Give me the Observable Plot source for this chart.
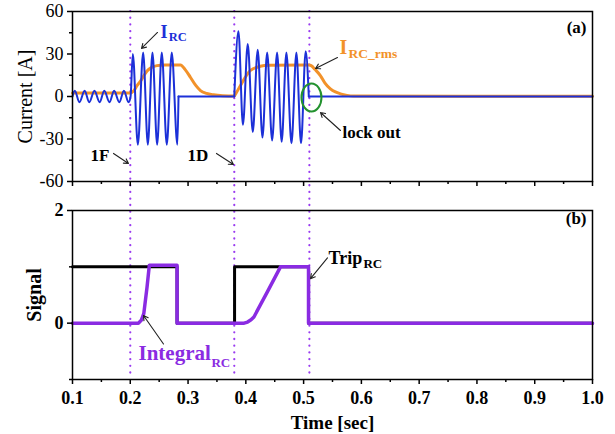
<!DOCTYPE html>
<html><head><meta charset="utf-8">
<script src="https://cdn.jsdelivr.net/npm/d3@7"></script>
<script src="https://cdn.jsdelivr.net/npm/@observablehq/plot@0.6"></script>
<style>
body{margin:0;background:#fff}
#chart{width:615px;height:434px;position:relative;background:#fff}
#chart svg{display:block}
#chart svg text{font-family:'Liberation Serif','Times New Roman',serif}
</style>
</head><body><div id="chart"></div>
<script>
// ---------- data ----------
const faultTimes = [0.2, 0.38, 0.51];

// I_RC waveform: extrema (time s, current A) and segment ids
const ircT = [0.100,0.104,0.112,0.121,0.129,0.138,0.147,0.155,0.164,0.172,0.181,0.189,0.197,
              0.2005,0.2044,0.2131,0.2223,0.2304,0.2384,0.2465,0.2545,0.2632,0.2718,0.2815,0.2835,
              0.2835,0.380,
              0.380,0.3872,0.3950,0.4033,0.4120,0.4206,0.4288,0.4369,0.4455,0.4541,0.4620,0.4702,0.4790,0.4875,0.4955,0.5036,0.5090,
              0.5090,1.000];
const ircV = [0,4,-4,4,-4,4,-4,4,-4,4,-4,4,-4,
              0,30,-34,31,-34,31,-34,31,-34,31,-34,0,
              0,0,
              0,46,-20,37,-25,33,-29,31,-31,31,-32,31,-33,31,-33,32,0,
              0,0];
const ircSeg = ["a","a","a","a","a","a","a","a","a","a","a","a","a",
                "a","a","a","a","a","a","a","a","a","a","a","a",
                "b","b",
                "c","c","c","c","c","c","c","c","c","c","c","c","c","c","c","c","c",
                "d","d"];

// I_RC_rms
const rmsT = [0.100,0.200,0.206,0.212,0.218,0.224,0.229,0.236,0.246,0.260,0.287,0.295,0.304,0.313,0.3215,0.332,0.344,0.360,
              0.380,0.384,0.391,0.399,0.408,0.425,0.440,0.509,0.513,0.520,0.529,0.537,0.5464,0.555,0.5637,0.575,0.586,1.000];
const rmsV = [2.4,2.4,4,7.8,11,15,18,20.3,21.8,22.3,22.3,19,13.6,8,4.2,2.2,1.2,0.6,
              0.4,3,8,13.5,18.4,21.3,22,22.3,21.8,19,14.8,9.5,5.4,3.2,1.9,0.8,0.3,0.1];

// Trip_RC signal
const tripT = [0.100,0.281,0.281,0.3805,0.3805,0.5085,0.5085,1.000];
const tripV = [1,1,0,0,1,1,0,0];

// Integral_RC signal
const intT = [0.100,0.214,0.219,0.2234,0.229,0.233,0.281,0.281,0.397,0.403,0.409,0.414,0.437,0.460,0.5085,0.5085,1.000];
const intV = [0,0,0.05,0.17,0.64,1.03,1.03,0,0,0.02,0.06,0.11,0.55,1.0,1.0,0,0];

// ticks
const xMajor = [0.1,0.2,0.3,0.4,0.5,0.6,0.7,0.8,0.9,1.0];
const xMinor = [0.15,0.25,0.35,0.45,0.55,0.65,0.75,0.85,0.95];
const yTopMajor = [-60,-30,0,30,60];
const yTopMinor = [-45,-15,15,45];
const yBotMajor = [0,2];
const yBotMinor = [-1,1];

// annotations (data units)
const lockoutCenter = [{t:0.5136, v:-0.7}];
const topArrows = [
  {x1:0.2471,y1:45.2,x2:0.2194,y2:33.9},
  {x1:0.5586,y1:27.5,x2:0.5206,y2:19.8},
  {x1:0.5638,y1:-24,x2:0.5292,y2:-11.3},
  {x1:0.171,y1:-40.2,x2:0.1969,y2:-47.3},
  {x1:0.3492,y1:-40.2,x2:0.3786,y2:-48}
];
const botArrows = [
  {x1:0.2575,y1:-0.37,x2:0.2229,y2:0.136},
  {x1:0.5413,y1:1.16,x2:0.5119,y2:0.79}
];

// ---------- style ----------
const SERIF = "'Liberation Serif','Times New Roman',serif";
const BLUE = "#1c30d8", ORANGE = "#f2922a", PURPLE = "#8a2be2", DOTC = "#9a3cf0", GREEN = "#23922f";
const X0 = 0.1, X1 = 1.0;

const irc = ircT.map((t,i) => ({t, v: ircV[i], seg: ircSeg[i]}));
const rms = rmsT.map((t,i) => ({t, v: rmsV[i]}));
const trip = tripT.map((t,i) => ({t, v: tripV[i]}));
const integ = intT.map((t,i) => ({t, v: intV[i]}));

function label(txt, t, v, opts) {
  return Plot.text([txt], {x: () => t, y: () => v, text: d => d, textAnchor: "start", lineAnchor: "bottom",
    fontWeight: "bold", fontFamily: SERIF, ...opts});
}
const axisFont = {fontFamily: SERIF, fontSize: 18};

const topPlot = Plot.plot({
  width: 615, height: 205,
  marginLeft: 72, marginRight: 23, marginTop: 11, marginBottom: 24,
  x: {domain: [X0, X1], label: null},
  y: {domain: [-60, 60], label: null},
  style: {fontFamily: SERIF, fontSize: "18px", color: "black", background: "white", overflow: "visible"},
  marks: [
    Plot.ruleX(faultTimes, {x: d => d, y1: () => 60, y2: () => -77, stroke: DOTC, strokeWidth: 2.2,
      strokeDasharray: "0.1 6.6", strokeLinecap: "round"}),
    Plot.line(rms, {x: "t", y: "v", stroke: ORANGE, strokeWidth: 3, curve: "monotone-x"}),
    Plot.line(irc, {x: "t", y: "v", z: "seg", stroke: BLUE, strokeWidth: 2, curve: "monotone-x"}),
    Plot.dot(lockoutCenter, {x: "t", y: "v", r: 10, stroke: GREEN, strokeWidth: 2, fill: "none"}),
    Plot.arrow(topArrows, {x1: "x1", y1: "y1", x2: "x2", y2: "y2", stroke: "#222", strokeWidth: 1.1, headLength: 7}),
    label("I", 0.2523, 41.4, {fill: BLUE, fontSize: 18}),
    label("RC", 0.2665, 39.5, {fill: BLUE, fontSize: 12.5}),
    label("I", 0.5621, 30.35, {fill: ORANGE, fontSize: 20}),
    label("RC_rms", 0.5777, 27.5, {fill: ORANGE, fontSize: 13.5}),
    label("lock out", 0.5673, -29.3, {fill: "black", fontSize: 17}),
    label("1F", 0.1312, -45.2, {fill: "black", fontSize: 17}),
    label("1D", 0.299, -45.2, {fill: "black", fontSize: 17}),
    Plot.text(["(a)"], {frameAnchor: "top-right", text: d => d, textAnchor: "end", lineAnchor: "middle",
      dx: -6, dy: 16, fontWeight: "bold", fontSize: 17, fontFamily: SERIF}),
    Plot.text(["Current [A]"], {frameAnchor: "left", text: d => d, textAnchor: "middle", lineAnchor: "middle",
      rotate: -90, dx: -47, fontSize: 20, fontFamily: SERIF}),
    Plot.frame({stroke: "black", strokeWidth: 1.5}),
    Plot.axisY({ticks: yTopMajor, tickSize: 5, tickPadding: 4, tickFormat: d => String(d), strokeWidth: 1.5, label: null, ...axisFont}),
    Plot.axisY({ticks: yTopMinor, tickSize: 3, tickFormat: () => "", strokeWidth: 1.5, label: null}),
    Plot.axisX({ticks: xMajor, tickSize: 5, tickFormat: () => "", strokeWidth: 1.5, label: null}),
    Plot.axisX({ticks: xMinor, tickSize: 3, tickFormat: () => "", strokeWidth: 1.5, label: null})
  ]
});

// turn the lock-out circle into an ellipse
topPlot.querySelectorAll("circle").forEach(c => {
  const cx = +c.getAttribute("cx") || 0, cy = +c.getAttribute("cy") || 0, r = +c.getAttribute("r") || 10;
  const e = document.createElementNS("http://www.w3.org/2000/svg", "ellipse");
  e.setAttribute("cx", cx); e.setAttribute("cy", cy);
  e.setAttribute("rx", r); e.setAttribute("ry", r * 1.4);
  for (const a of ["stroke", "fill", "stroke-width", "transform"]) if (c.getAttribute(a)) e.setAttribute(a, c.getAttribute(a));
  c.replaceWith(e);
});

const botPlot = Plot.plot({
  width: 615, height: 229,
  marginLeft: 72, marginRight: 23, marginTop: 5, marginBottom: 55,
  x: {domain: [X0, X1], label: null},
  y: {domain: [-1, 2], label: null},
  style: {fontFamily: SERIF, fontSize: "18px", color: "black", background: "white", overflow: "visible"},
  marks: [
    Plot.ruleX(faultTimes, {x: d => d, y1: () => 2.09, y2: () => -1, stroke: DOTC, strokeWidth: 2.2,
      strokeDasharray: "0.1 6.6", strokeLinecap: "round"}),
    Plot.line(trip, {x: "t", y: "v", stroke: "black", strokeWidth: 3}),
    Plot.line(integ, {x: "t", y: "v", stroke: PURPLE, strokeWidth: 3.5}),
    Plot.arrow(botArrows, {x1: "x1", y1: "y1", x2: "x2", y2: "y2", stroke: "#222", strokeWidth: 1.1, headLength: 7}),
    label("Integral", 0.2142, -0.657, {fill: PURPLE, fontSize: 21}),
    label("RC", 0.3405, -0.78, {fill: PURPLE, fontSize: 13}),
    label("Trip", 0.5431, 1.048, {fill: "black", fontSize: 18}),
    label("RC", 0.6036, 0.98, {fill: "black", fontSize: 13}),
    Plot.text(["(b)"], {frameAnchor: "top-right", text: d => d, textAnchor: "end", lineAnchor: "middle",
      dx: -6, dy: 8, fontWeight: "bold", fontSize: 17, fontFamily: SERIF}),
    Plot.text(["Signal"], {frameAnchor: "left", text: d => d, textAnchor: "middle", lineAnchor: "middle",
      rotate: -90, dx: -38, fontSize: 20, fontWeight: "bold", fontFamily: SERIF}),
    Plot.text(["Time [sec]"], {frameAnchor: "bottom", text: d => d, textAnchor: "middle", lineAnchor: "middle",
      dy: 43, fontSize: 19, fontWeight: "bold", fontFamily: SERIF}),
    Plot.frame({stroke: "black", strokeWidth: 1.5}),
    Plot.axisY({ticks: yBotMajor, tickSize: 5, tickPadding: 4, tickFormat: d => String(d), fontWeight: "bold", strokeWidth: 1.5, label: null, ...axisFont}),
    Plot.axisY({ticks: yBotMinor, tickSize: 3, tickFormat: () => "", strokeWidth: 1.5, label: null}),
    Plot.axisX({ticks: xMajor, tickSize: 5, tickPadding: 7, tickFormat: d => d.toFixed(1), fontWeight: "bold", strokeWidth: 1.5, label: null, ...axisFont}),
    Plot.axisX({ticks: xMinor, tickSize: 3, tickFormat: () => "", strokeWidth: 1.5, label: null})
  ]
});

const chart = document.getElementById("chart");
chart.appendChild(topPlot);
chart.appendChild(botPlot);
</script>
</body></html>
